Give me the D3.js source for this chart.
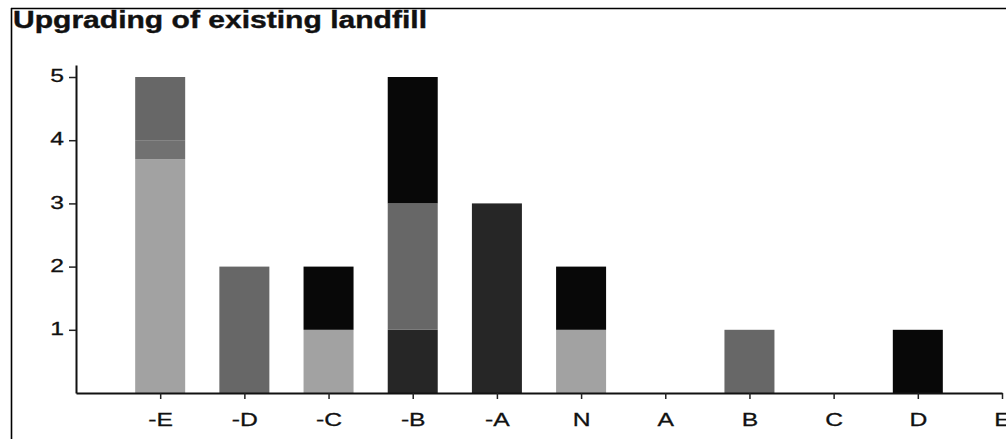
<!DOCTYPE html>
<html><head><meta charset="utf-8">
<script src="https://cdn.jsdelivr.net/npm/d3@7"></script>
<style>body{margin:0;background:#fff;}svg{display:block;font-family:"Liberation Sans",Arial,sans-serif;}</style>
</head><body>
<script>
const categories = ["-E","-D","-C","-B","-A","N","A","B","C","D","E"];
const seriesNames = ["light","dark","midlight","mid","black"];
const seriesColors = ["#a2a2a2","#262626","#717171","#676767","#080808"];
const light    = [3.7,0,1,0,0,1,0,0,0,0,0];
const dark     = [0,0,0,1,3,0,0,0,0,0,0];
const midlight = [0.3,0,0,0,0,0,0,0,0,0,0];
const mid      = [1,2,0,2,0,0,0,1,0,0,0];
const black    = [0,0,1,2,0,1,0,0,0,1,0];
const yTicks = [1,2,3,4,5];
const title = "Upgrading of existing landfill";

const W = 1006, H = 439;
const svg = d3.select("body").append("svg").attr("width", W).attr("height", H);

// frame
svg.append("line").attr("x1",11).attr("x2",W).attr("y1",8.5).attr("y2",8.5).attr("stroke","#000").attr("stroke-width",1.6);
svg.append("line").attr("x1",11.5).attr("x2",11.5).attr("y1",8).attr("y2",H).attr("stroke","#000").attr("stroke-width",1.6);

svg.append("text").attr("x",13).attr("y",28)
  .style("font-size","23.5px").style("font-weight","bold")
  .attr("textLength",414).attr("lengthAdjust","spacingAndGlyphs")
  .attr("fill","#111").attr("stroke","#111").attr("stroke-width",0.4).text(title);

const x = d3.scaleLinear().domain([-1, categories.length - 1]).range([76, 1002]);
const y = d3.scaleLinear().domain([0, 5.19]).range([393, 65]);

const rows = categories.map((c,i) => ({cat:c, i, light:light[i], dark:dark[i], midlight:midlight[i], mid:mid[i], black:black[i]}));
const stack = d3.stack().keys(seriesNames)(rows);
const color = d3.scaleOrdinal().domain(seriesNames).range(seriesColors);
const bw = 50;

svg.append("g").selectAll("g").data(stack).join("g").attr("fill", d => color(d.key))
  .selectAll("rect").data(d => d.filter(p => p[1] > p[0])).join("rect")
  .attr("x", d => x(d.data.i) - bw/2)
  .attr("width", bw)
  .attr("y", d => y(d[1]))
  .attr("height", d => y(d[0]) - y(d[1]));

// y axis
const yAxis = svg.append("g").attr("transform","translate(76,0)")
  .call(d3.axisLeft(y).tickValues(yTicks).tickFormat(d3.format("d")).tickSize(7).tickSizeOuter(0));
yAxis.select(".domain").attr("stroke-width",2).attr("stroke","#111");
yAxis.selectAll(".tick line").attr("stroke-width",1.5).attr("stroke","#222");
yAxis.selectAll("text").style("font-size","19px").attr("fill","#111")
  .attr("stroke","#111").attr("stroke-width",0.3)
  .attr("x",0).attr("dy","0.3em").attr("text-anchor","end")
  .attr("transform","translate(-12,-1) scale(1.3,1)");

// x axis
const xAxis = svg.append("g").attr("transform","translate(0,393)")
  .call(d3.axisBottom(x).tickValues(d3.range(categories.length)).tickFormat(i => categories[i]).tickSize(6).tickSizeOuter(0));
xAxis.select(".domain").attr("stroke-width",2).attr("stroke","#111");
xAxis.selectAll(".tick line").attr("stroke-width",1.5).attr("stroke","#222");
xAxis.selectAll("text").style("font-size","19px").attr("fill","#111")
  .attr("stroke","#111").attr("stroke-width",0.3)
  .attr("y",0).attr("dy",0).attr("text-anchor","middle")
  .attr("transform","translate(0,33) scale(1.3,1)");
</script>
</body></html>
